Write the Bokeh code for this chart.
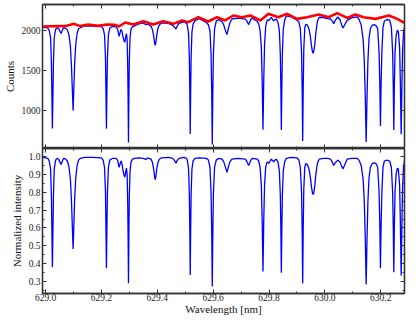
import numpy as np
from bokeh.plotting import figure
from bokeh.layouts import column
from bokeh.models import LinearAxis, SingleIntervalTicker, PrintfTickFormatter, Range1d
from bokeh.embed import file_html
from bokeh.resources import INLINE

# ---- data ----
# spectrum trace: wavelength [nm] and normalized intensity
wavelength = [
    628.990, 629.000, 629.008, 629.013, 629.018, 629.021, 629.0225, 629.0244, 629.0265, 629.028,
    629.031, 629.036, 629.041, 629.047, 629.051, 629.0556, 629.060, 629.065, 629.072, 629.078,
    629.084, 629.089, 629.093, 629.096, 629.0986, 629.101, 629.104, 629.108, 629.113, 629.118,
    629.125, 629.140, 629.170, 629.200, 629.206, 629.211, 629.2145, 629.216, 629.2179, 629.2198,
    629.2215, 629.225, 629.230, 629.240, 629.252, 629.258, 629.261, 629.2634, 629.266, 629.270,
    629.2735, 629.277, 629.281, 629.2839, 629.287, 629.2896, 629.292, 629.294, 629.2955, 629.2968,
    629.2982, 629.2998, 629.3025, 629.306, 629.311, 629.320, 629.335, 629.350, 629.359, 629.365,
    629.370, 629.378, 629.383, 629.387, 629.3905, 629.3925, 629.3945, 629.398, 629.402, 629.407,
    629.415, 629.440, 629.455, 629.461, 629.4667, 629.472, 629.478, 629.495, 629.505, 629.508,
    629.512, 629.5148, 629.5163, 629.5179, 629.5195, 629.521, 629.524, 629.528, 629.535, 629.550,
    629.575, 629.583, 629.5885, 629.5925, 629.5948, 629.5968, 629.5988, 629.601, 629.605, 629.611,
    629.620, 629.632, 629.638, 629.643, 629.6494, 629.655, 629.660, 629.667, 629.690, 629.715,
    629.720, 629.7235, 629.727, 629.7305, 629.735, 629.740, 629.758, 629.763, 629.768, 629.7725,
    629.7755, 629.7783, 629.7811, 629.784, 629.788, 629.792, 629.7955, 629.799, 629.804, 629.808,
    629.8125, 629.8166, 629.821, 629.826, 629.832, 629.837, 629.8405, 629.8423, 629.8441, 629.8459,
    629.8477, 629.851, 629.856, 629.862, 629.880, 629.900, 629.907, 629.912, 629.9165, 629.9187,
    629.9205, 629.9223, 629.9245, 629.928, 629.9313, 629.937, 629.943, 629.948, 629.952, 629.9555,
    629.9577, 629.960, 629.9635, 629.967, 629.971, 629.9745, 629.980, 629.995, 630.010, 630.020,
    630.026, 630.0317, 630.037, 630.046, 630.054, 630.060, 630.0651, 630.070, 630.0795, 630.095,
    630.115, 630.122, 630.130, 630.137, 630.141, 630.1445, 630.1477, 630.151, 630.154, 630.158,
    630.163, 630.1692, 630.176, 630.183, 630.189, 630.194, 630.1968, 630.1989, 630.201, 630.204,
    630.208, 630.213, 630.222, 630.232, 630.238, 630.2425, 630.2448, 630.2467, 630.2486, 630.251,
    630.255, 630.2595, 630.263, 630.2675, 630.270, 630.2731, 630.2755, 630.278, 630.2815, 630.2849,
    630.290,
]
normalized = [
    0.995, 0.993, 0.990, 0.975, 0.930, 0.770, 0.600, 0.380, 0.600, 0.770,
    0.930, 0.980, 0.990, 0.985, 0.970, 0.955, 0.975, 0.990, 0.985, 0.975,
    0.940, 0.870, 0.740, 0.600, 0.483, 0.600, 0.760, 0.880, 0.950, 0.980,
    0.990, 0.995, 0.995, 0.993, 0.980, 0.940, 0.800, 0.620, 0.375, 0.620,
    0.800, 0.940, 0.980, 0.990, 0.990, 0.980, 0.955, 0.940, 0.955, 0.975,
    0.960, 0.925, 0.895, 0.884, 0.915, 0.935, 0.900, 0.750, 0.550, 0.290,
    0.550, 0.780, 0.920, 0.970, 0.985, 0.990, 0.993, 0.990, 0.984, 0.992,
    0.990, 0.985, 0.965, 0.930, 0.885, 0.871, 0.885, 0.930, 0.965, 0.985,
    0.993, 0.995, 0.990, 0.980, 0.963, 0.980, 0.990, 0.995, 0.990, 0.975,
    0.930, 0.780, 0.600, 0.337, 0.600, 0.780, 0.930, 0.975, 0.990, 0.993,
    0.990, 0.980, 0.940, 0.800, 0.580, 0.272, 0.580, 0.800, 0.940, 0.980,
    0.990, 0.985, 0.970, 0.945, 0.912, 0.945, 0.970, 0.985, 0.990, 0.985,
    0.975, 0.962, 0.950, 0.962, 0.980, 0.990, 0.985, 0.975, 0.940, 0.840,
    0.640, 0.356, 0.640, 0.840, 0.940, 0.965, 0.970, 0.962, 0.975, 0.985,
    0.978, 0.970, 0.980, 0.985, 0.970, 0.920, 0.780, 0.600, 0.349, 0.600,
    0.780, 0.920, 0.970, 0.990, 0.995, 0.993, 0.980, 0.940, 0.800, 0.580,
    0.290, 0.580, 0.820, 0.940, 0.960, 0.955, 0.930, 0.885, 0.830, 0.795,
    0.787, 0.795, 0.830, 0.890, 0.940, 0.970, 0.985, 0.990, 0.990, 0.985,
    0.970, 0.950, 0.965, 0.980, 0.970, 0.945, 0.931, 0.950, 0.985, 0.990,
    0.990, 0.980, 0.950, 0.870, 0.750, 0.550, 0.283, 0.550, 0.750, 0.880,
    0.940, 0.960, 0.965, 0.960, 0.940, 0.800, 0.600, 0.375, 0.600, 0.800,
    0.940, 0.975, 0.980, 0.975, 0.940, 0.800, 0.600, 0.352, 0.600, 0.800,
    0.900, 0.935, 0.930, 0.840, 0.650, 0.334, 0.600, 0.820, 0.940, 0.975,
    0.985,
]
# continuum (red) in counts
continuum_wavelength = [
    628.990, 629.076, 629.102, 629.124, 629.152, 629.188, 629.219, 629.249, 629.263, 629.285,
    629.314, 629.350, 629.385, 629.421, 629.457, 629.489, 629.511, 629.547, 629.582, 629.614,
    629.643, 629.672, 629.703, 629.733, 629.769, 629.798, 629.833, 629.865, 629.900, 629.936,
    629.978, 630.014, 630.044, 630.080, 630.109, 630.139, 630.181, 630.229, 630.259, 630.290,
]
continuum_counts = [
    2050, 2058, 2083, 2055, 2075, 2058, 2075, 2070, 2050, 2100,
    2075, 2116, 2075, 2116, 2083, 2125, 2104, 2166, 2112, 2166,
    2125, 2187, 2166, 2187, 2125, 2208, 2166, 2208, 2145, 2166,
    2200, 2166, 2216, 2158, 2200, 2166, 2145, 2187, 2145, 2083,
]

wl = np.array(wavelength)
nrm = np.array(normalized)
# observed counts = normalized intensity x continuum level
counts = nrm * np.interp(wl, continuum_wavelength, continuum_counts)

FONT = "Liberation Serif"
AXC = "#333333"
X_RANGE = (628.989, 630.285)


def make_axis(ticker, labels, fmt=None, label=None):
    ax = LinearAxis(ticker=ticker)
    ax.axis_line_color = AXC
    ax.axis_line_width = 1.3
    ax.major_tick_line_color = AXC
    ax.minor_tick_line_color = AXC
    ax.major_tick_in = 4
    ax.major_tick_out = 0
    ax.minor_tick_in = 2
    ax.minor_tick_out = 0
    ax.major_label_text_font = FONT
    if labels:
        ax.major_label_text_color = "#222222"
        ax.major_label_text_font_size = "9.5px"
        ax.major_label_standoff = 2
        if fmt:
            ax.formatter = PrintfTickFormatter(format=fmt)
    else:
        # ticks only, labels not drawn
        ax.major_label_text_color = None
        ax.major_label_text_alpha = 0
        ax.major_label_text_font_size = "1px"
        ax.major_label_standoff = 0
    if label:
        ax.axis_label = label
        ax.axis_label_text_font = FONT
        ax.axis_label_text_font_size = "11px"
        ax.axis_label_text_font_style = "normal"
        ax.axis_label_text_color = "#111111"
        ax.axis_label_standoff = 3
    return ax


def base_fig(height, yr, border_bottom, border_top):
    p = figure(width=410, height=height, x_range=Range1d(*X_RANGE), y_range=Range1d(*yr),
               output_backend="svg", toolbar_location=None,
               x_axis_location=None, y_axis_location=None,
               min_border_left=42, min_border_right=6,
               min_border_top=border_top, min_border_bottom=border_bottom)
    p.xgrid.visible = False
    p.ygrid.visible = False
    p.outline_line_color = AXC
    p.outline_line_width = 1.3
    p.background_fill_color = "white"
    p.border_fill_color = "white"
    return p


def xt():
    return SingleIntervalTicker(interval=0.2, num_minor_ticks=2)


# ---- top panel: counts ----
p1 = base_fig(148, (531, 2324), 0, 4)
yt1 = lambda: SingleIntervalTicker(interval=500, num_minor_ticks=0)
p1.add_layout(make_axis(yt1(), True, "%d", "Counts"), "left")
p1.add_layout(make_axis(yt1(), False), "right")
p1.add_layout(make_axis(xt(), False), "above")
p1.add_layout(make_axis(xt(), False), "below")
p1.line(wl, counts, line_color="#0000ff", line_width=1.3)
p1.line(continuum_wavelength, continuum_counts, line_color="#ff0000", line_width=2.6)

# ---- bottom panel: normalized ----
p2 = base_fig(172, (0.233, 1.045), 27, 0)
yt2 = lambda: SingleIntervalTicker(interval=0.1, num_minor_ticks=2)
p2.add_layout(make_axis(yt2(), True, "%.1f", "Normalized intensity"), "left")
p2.add_layout(make_axis(yt2(), False), "right")
p2.add_layout(make_axis(xt(), False), "above")
xb = make_axis(xt(), True, "%.1f", "Wavelength [nm]")
xb.major_label_standoff = 0
xb.axis_label_standoff = -1
p2.add_layout(xb, "below")
p2.line(wl, nrm, line_color="#0000ff", line_width=1.3)

layout = column(p1, p2, spacing=0)
open("out.html", "w").write(file_html(layout, INLINE))
